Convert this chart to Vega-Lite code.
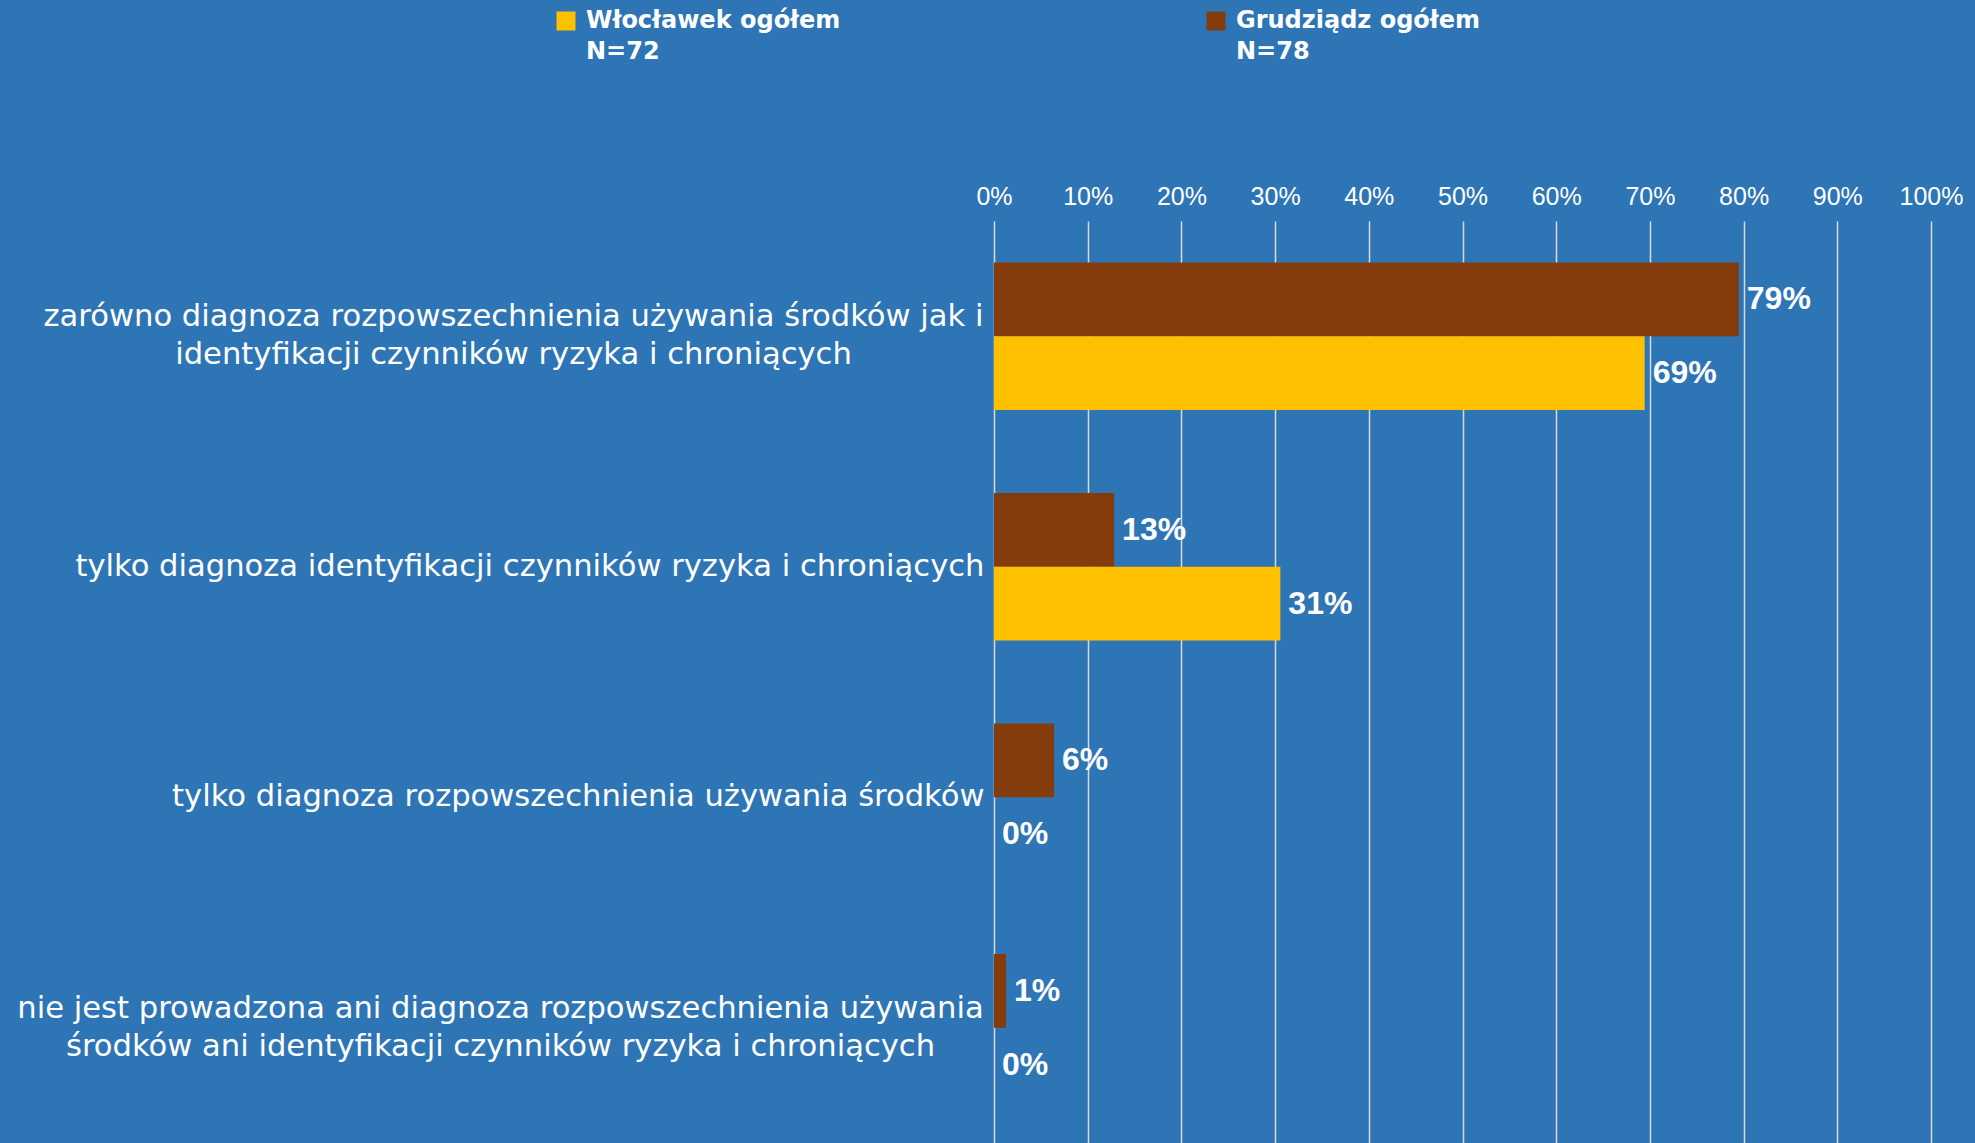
{
  "$schema": "https://vega.github.io/schema/vega-lite/v6.json",
  "width": 937,
  "height": 922,
  "autosize": {"type": "none"},
  "padding": {"left": 994, "top": 221, "right": 44, "bottom": 0},
  "background": "#2E75B6",
  "config": {
    "view": {"stroke": null},
    "font": "Liberation Sans"
  },
  "data": {
    "values": [
      {"cat": "zarówno diagnoza rozpowszechnienia używania środków jak i identyfikacji czynników ryzyka i chroniących", "series": "Grudziądz  ogółem", "value": 0.7949},
      {"cat": "zarówno diagnoza rozpowszechnienia używania środków jak i identyfikacji czynników ryzyka i chroniących", "series": "Włocławek ogółem", "value": 0.6944},
      {"cat": "tylko diagnoza identyfikacji czynników ryzyka i chroniących", "series": "Grudziądz  ogółem", "value": 0.1282},
      {"cat": "tylko diagnoza identyfikacji czynników ryzyka i chroniących", "series": "Włocławek ogółem", "value": 0.3056},
      {"cat": "tylko diagnoza rozpowszechnienia używania środków", "series": "Grudziądz  ogółem", "value": 0.0641},
      {"cat": "tylko diagnoza rozpowszechnienia używania środków", "series": "Włocławek ogółem", "value": 0},
      {"cat": "nie jest prowadzona ani diagnoza rozpowszechnienia używania środków ani identyfikacji czynników ryzyka i chroniących", "series": "Grudziądz  ogółem", "value": 0.0128},
      {"cat": "nie jest prowadzona ani diagnoza rozpowszechnienia używania środków ani identyfikacji czynników ryzyka i chroniących", "series": "Włocławek ogółem", "value": 0}
    ]
  },
  "encoding": {
    "y": {
      "field": "cat",
      "type": "nominal",
      "sort": null,
      "scale": {"paddingInner": 0.36, "paddingOuter": 0.18},
      "axis": {
        "title": null,
        "domain": false,
        "ticks": false,
        "labelColor": "white",
        "labelFont": "DejaVu Sans",
        "labelFontSize": 30.6,
        "labelLimit": 0,
        "labelPadding": {"condition": [{"test": "indexof(datum.value, 'jak i') >= 0", "value": 481}, {"test": "indexof(datum.value, 'nie jest') >= 0", "value": 494}], "value": 10},
        "labelAlign": {"condition": {"test": "indexof(datum.value, 'jak i') >= 0 || indexof(datum.value, 'nie jest') >= 0", "value": "center"}, "value": "right"},
        "labelOffset": {"condition": {"test": "indexof(datum.value, 'jak i') >= 0 || indexof(datum.value, 'nie jest') >= 0", "value": -19}, "value": 0},
        "labelBaseline": "middle",
        "labelLineHeight": 38,
        "labelExpr": "split(replace(replace(datum.label, 'jak i ', 'jak i|'), 'używania środków ani', 'używania|środków ani'), '|')"
      }
    },
    "yOffset": {
      "field": "series",
      "type": "nominal",
      "sort": ["Grudziądz  ogółem", "Włocławek ogółem"]
    },
    "x": {
      "field": "value",
      "type": "quantitative",
      "scale": {"domain": [0, 1], "nice": false},
      "axis": {
        "orient": "top",
        "title": null,
        "values": [0, 0.1, 0.2, 0.3, 0.4, 0.5, 0.6, 0.7, 0.8, 0.9, 1],
        "format": ".0%",
        "domain": false,
        "ticks": false,
        "grid": true,
        "gridColor": "#D9D9D9",
        "gridWidth": 1.5,
        "labelColor": "white",
        "labelFont": "Liberation Sans",
        "labelFontSize": 25,
        "labelPadding": 12,
        "labelFlush": false
      }
    }
  },
  "layer": [
    {
      "mark": {"type": "bar"},
      "encoding": {
        "color": {
          "field": "series",
          "type": "nominal",
          "scale": {"domain": ["Włocławek ogółem", "Grudziądz  ogółem"], "range": ["#FFC000", "#843C0C"]},
          "legend": {
            "title": null,
            "orient": "none",
            "legendX": -440,
            "legendY": -212,
            "direction": "horizontal",
            "columns": 2,
            "columnPadding": 363,
            "symbolType": "square",
            "symbolSize": 361,
            "symbolStrokeWidth": 0,
            "labelColor": "white",
            "labelFont": "DejaVu Sans",
            "labelFontWeight": "bold",
            "labelFontSize": 24,
            "labelLimit": 0,
            "labelOffset": 8,
            "labelBaseline": "middle",
            "labelExpr": "datum.label == 'Włocławek ogółem' ? ['Włocławek ogółem', 'N=72'] : ['Grudziądz  ogółem', 'N=78']",
            "encode": {"labels": {"update": {"lineHeight": {"value": 31}}}}
          }
        }
      }
    },
    {
      "mark": {"type": "text", "align": "left", "baseline": "middle", "dx": 8, "color": "white", "font": "Liberation Sans", "fontWeight": "bold", "fontSize": 32},
      "encoding": {
        "text": {"field": "value", "type": "quantitative", "format": ".0%"}
      }
    }
  ]
}
